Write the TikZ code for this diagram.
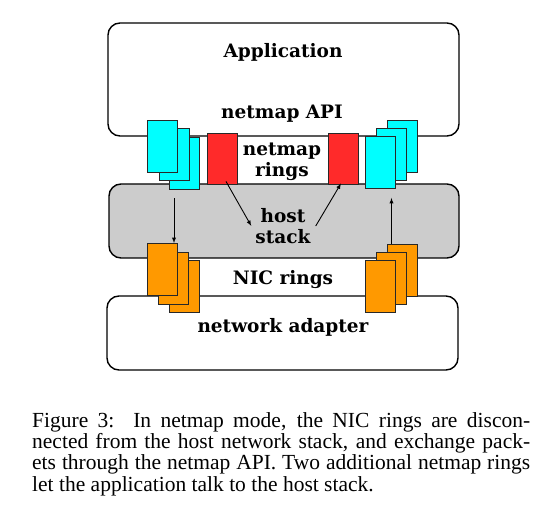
\documentclass[tikz,border=0pt]{standalone}
\usepackage{fontspec}
\setmainfont{Liberation Serif}
\newfontfamily\diagfont{DejaVu Serif}
\usetikzlibrary{calc}
\definecolor{ringcyan}{RGB}{0,255,255}
\definecolor{ringred}{RGB}{255,42,42}
\definecolor{ringorange}{RGB}{255,153,0}
\definecolor{stackgray}{RGB}{204,204,204}
\definecolor{ringedge}{RGB}{40,40,40}

\tikzset{
  layer/.style={draw=black, line width=1.4pt, rounded corners=12pt, inner sep=0pt},
  ring/.style={draw=ringedge, line width=0.9pt, minimum width=30pt, minimum height=52pt, inner sep=0pt},
  lbl/.style={font=\diagfont\bfseries\fontsize{18.5}{21.5}\selectfont, align=center, inner sep=2pt},
  arr/.style={->, >=latex, line width=0.9pt}
}

\begin{document}
\begin{tikzpicture}[x=1pt, y=-1pt]
    \useasboundingbox (0,0) rectangle (554,518);

    % the three layers
    \node[layer, minimum width=351pt, minimum height=113pt] (app) at (283.5,79.5) {};
    \node[layer, fill=stackgray, minimum width=350pt, minimum height=74pt] (host) at (284,221) {};
    \node[layer, minimum width=351pt, minimum height=74pt] (nic) at (282.5,333) {};

    \node[lbl] (applbl) at (283,52) {Application};
    \node[lbl] (apilbl) at (282,114) {netmap API};
    \node[lbl] (hostrings) at (282,162) {netmap\\rings};
    \node[lbl] (hoststack) at (283,226) {host\\stack};
    \node[lbl] (nicrings) at (283,280) {NIC rings};
    \node[lbl] (nicadapter) at (283,327) {network adapter};

    % netmap rings of the NIC (cyan), back to front
    \node[ring, fill=ringcyan] (cyanLc) at (184.5,163) {};
    \node[ring, fill=ringcyan] (cyanLb) at (174,154.5) {};
    \node[ring, fill=ringcyan] (cyanLa) at (162,146) {};

    \node[ring, fill=ringcyan] (cyanRc) at (402.5,146.5) {};
    \node[ring, fill=ringcyan] (cyanRb) at (391.5,154.5) {};
    \node[ring, fill=ringcyan] (cyanRa) at (380,162.5) {};

    % host rings
    \node[ring, fill=ringred, minimum height=51pt] (redL) at (222,158.5) {};
    \node[ring, fill=ringred, minimum height=51pt] (redR) at (343,158.5) {};

    % NIC rings (orange), back to front
    \node[ring, fill=ringorange] (orangeLc) at (184.5,286.5) {};
    \node[ring, fill=ringorange] (orangeLb) at (173.5,278.5) {};
    \node[ring, fill=ringorange] (orangeLa) at (162,269.5) {};

    \node[ring, fill=ringorange] (orangeRc) at (402.5,270) {};
    \node[ring, fill=ringorange] (orangeRb) at (391.5,278.5) {};
    \node[ring, fill=ringorange] (orangeRa) at (380,286.5) {};

    % arrows
    \draw[arr, shorten <=9pt] (cyanLc.south -| cyanLb.south) -- (cyanLb.south |- orangeLa.north);
    \draw[arr, shorten >=9pt] (orangeRc.north -| orangeRb.north) -- (cyanRa.south -| orangeRb.north);
    \draw[arr] ([xshift=4pt, yshift=3pt]redL.south) -- ([xshift=-2pt]hoststack.west);
    \draw[arr] ([xshift=3pt]hoststack.east) -- ([xshift=-2pt, yshift=1pt]redR.south);

    % caption
    \node[anchor=north west, inner sep=0pt, text width=498pt, align=justify,
          font=\fontsize{21.5}{21.3}\selectfont] (caption) at (32,412)
      {Figure 3:\ \ In netmap mode, the NIC rings are discon-\linebreak
       nected from the host network stack, and exchange pack-\linebreak
       ets through the netmap API. Two additional netmap rings\linebreak
       let the application talk to the host stack.};
\end{tikzpicture}
\end{document}
